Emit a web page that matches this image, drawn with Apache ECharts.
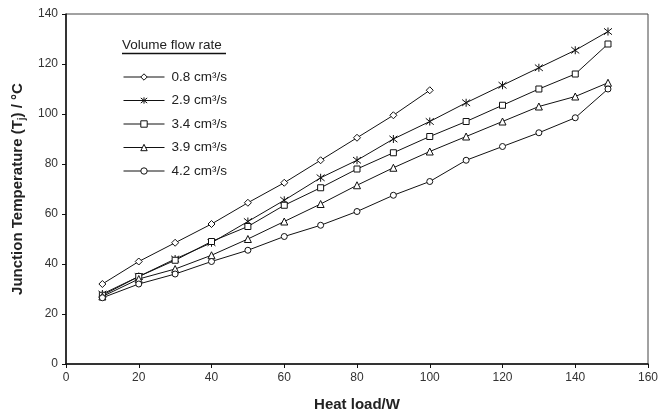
<!DOCTYPE html>
<html>
<head>
<meta charset="utf-8">
<script src="https://cdn.jsdelivr.net/npm/echarts@6/dist/echarts.min.js"></script>
<style>
html, body { margin: 0; padding: 0; background: #fff; }
#chart { width: 671px; height: 417px; }
</style>
</head>
<body>
<div id="chart"></div>
<script>
// heat load (W)
var loadShort = [10, 20, 30, 40, 50, 60, 70, 80, 90, 100]
var loadLong = [10, 20, 30, 40, 50, 60, 70, 80, 90, 100, 110, 120, 130, 140, 149]
// junction temperature (°C) per flow rate
var flowNames = ['0.8 cm³/s', '2.9 cm³/s', '3.4 cm³/s', '3.9 cm³/s', '4.2 cm³/s']
var t08 = [32, 41, 48.5, 56, 64.5, 72.5, 81.5, 90.5, 99.5, 109.5]
var t29 = [28, 35, 42, 48.5, 57, 65.5, 74.5, 81.5, 90, 97, 104.5, 111.5, 118.5, 125.5, 133]
var t34 = [27.5, 35, 41.5, 49, 55, 63.5, 70.5, 78, 84.5, 91, 97, 103.5, 110, 116, 128]
var t39 = [27, 34, 38, 43.5, 50, 57, 64, 71.5, 78.5, 85, 91, 97, 103, 107, 112.5]
var t42 = [26.5, 32, 36, 41, 45.5, 51, 55.5, 61, 67.5, 73, 81.5, 87, 92.5, 98.5, 110]
var xTicks = { min: 0, max: 160, interval: 20 }
var yTicks = { min: 0, max: 140, interval: 20 }

function pairs(xs, ys) {
    return xs.map(function (x, i) { return [x, ys[i]] })
}

var star = 'path://M5,0L5,10M1,1L9,9M9,1L1,9'
var font = 'Liberation Sans, Arial, sans-serif'

function mkSeries(name, xs, ys, symbol, size, solid) {
    return {
        name: name,
        type: 'line',
        data: pairs(xs, ys),
        symbol: symbol,
        symbolSize: size,
        showAllSymbol: true,
        lineStyle: { color: '#111', width: 1 },
        itemStyle: {
            color: solid ? '#111' : '#fff',
            borderColor: '#111',
            borderWidth: 1
        },
        emphasis: { disabled: true },
        z: 3
    }
}

var chart = echarts.init(document.getElementById('chart'))

chart.setOption({
    animation: false,
    textStyle: { fontFamily: font },
    grid: {
        left: 66, right: 23, top: 14, bottom: 50,
        show: true, borderColor: '#444', borderWidth: 1
    },
    legend: {
        orient: 'vertical',
        left: 123, top: 70,
        padding: 0,
        itemWidth: 41, itemHeight: 8,
        itemGap: 9.5,
        itemStyle: { color: '#fff', borderColor: '#111', borderWidth: 1 },
        lineStyle: { color: '#111', width: 1 },
        textStyle: { fontSize: 13.5, color: '#222', padding: [0, 0, 0, 2] },
        data: flowNames
    },
    graphic: [
        {
            type: 'text', left: 122, top: 38,
            style: { text: 'Volume flow rate', fontSize: 13.5, fill: '#222', fontFamily: font }
        },
        {
            type: 'line', shape: { x1: 122, y1: 53.5, x2: 226, y2: 53.5 },
            style: { stroke: '#111', lineWidth: 1.5 }
        }
    ],
    xAxis: {
        type: 'value',
        min: xTicks.min, max: xTicks.max, interval: xTicks.interval,
        name: 'Heat load/W',
        nameLocation: 'middle',
        nameGap: 33,
        nameTextStyle: { fontSize: 15, fontWeight: 'bold', color: '#222' },
        axisLine: { lineStyle: { color: '#111', width: 1.5 } },
        axisTick: { inside: false, length: 4, lineStyle: { color: '#111' } },
        axisLabel: { fontSize: 12, color: '#333', margin: 8 },
        splitLine: { show: false }
    },
    yAxis: {
        type: 'value',
        min: yTicks.min, max: yTicks.max, interval: yTicks.interval,
        name: '{a|Junction Temperature (T}{s|j}{a|) / °C}',
        nameLocation: 'middle',
        nameGap: 29,
        nameTextStyle: {
            rich: {
                a: { fontSize: 15, fontWeight: 'bold', color: '#222', fontFamily: font },
                s: { fontSize: 10, fontWeight: 'bold', color: '#222', padding: [8, 0, 0, 0], fontFamily: font }
            }
        },
        axisLine: { show: true, lineStyle: { color: '#111', width: 1.5 } },
        axisTick: { show: true, inside: false, length: 4, lineStyle: { color: '#111' } },
        axisLabel: { fontSize: 12, color: '#333', margin: 8 },
        splitLine: { show: false }
    },
    series: [
        mkSeries(flowNames[0], loadShort, t08, 'diamond', 7, false),
        mkSeries(flowNames[1], loadLong, t29, star, 8, true),
        mkSeries(flowNames[2], loadLong, t34, 'rect', 6, false),
        mkSeries(flowNames[3], loadLong, t39, 'triangle', 7, false),
        mkSeries(flowNames[4], loadLong, t42, 'circle', 6, false)
    ]
})
</script>
</body>
</html>
